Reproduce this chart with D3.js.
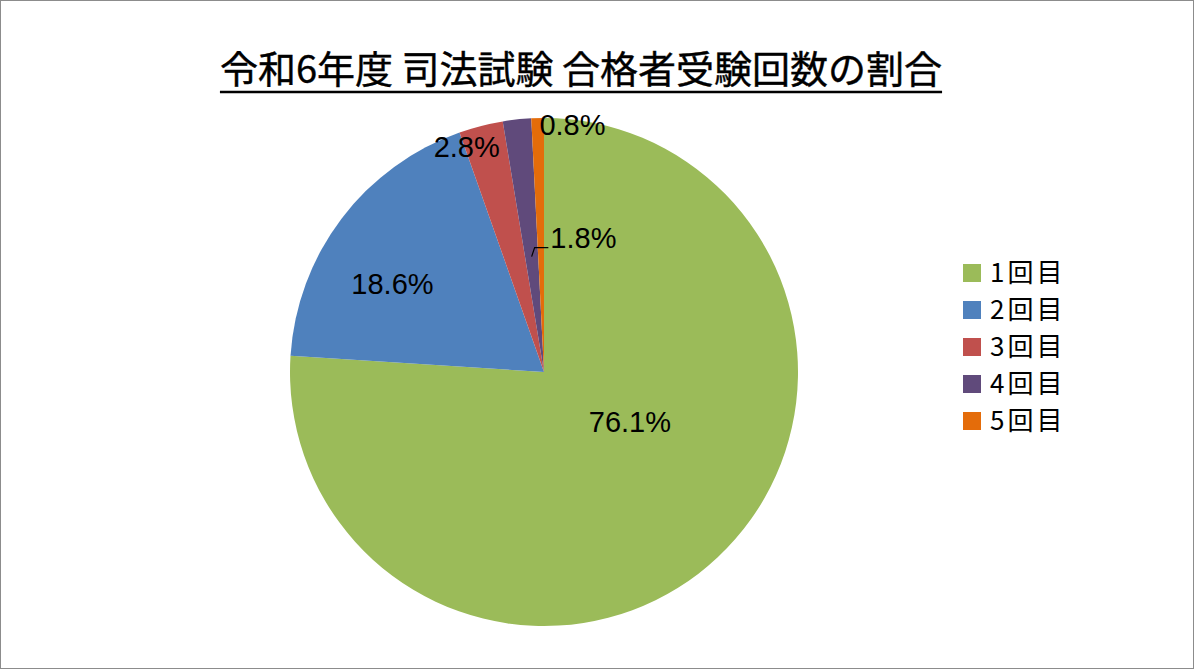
<!DOCTYPE html>
<html>
<head>
<meta charset="utf-8">
<script src="https://cdn.jsdelivr.net/npm/d3@7"></script>
<style>
	body { margin: 0; background: #fff; }
	svg { display: block; }
</style>
</head>
<body>
<div id="svg-container"></div>
<script>
	// DATA
	var categories = ['1回目', '2回目', '3回目', '4回目', '5回目'];
	var shares = [76.1, 18.6, 2.8, 1.8, 0.8];
	var colors = ['#9BBB59', '#4F81BD', '#C0504D', '#604A7B', '#E46C0A'];
	var titleText = '令和6年度 司法試験 合格者受験回数の割合';

	var pageWidth = 1195;
	var pageHeight = 670;
	var cx = 544;
	var cy = 372;
	var radius = 254;

	// label placement: fraction of radius, angle shift (deg) from slice middle
	var labelRadius = [0.39, 0.69, 0.94, 0.55, 0.98];
	var labelShift  = [-17, -7, -4.5, 22.5, 8];

	var svg = d3.select('#svg-container')
		.append('svg')
		.attr('width', pageWidth)
		.attr('height', pageHeight);

	svg.append('rect')
		.attr('x', 0.5).attr('y', 0.5)
		.attr('width', pageWidth - 2).attr('height', pageHeight - 2)
		.attr('fill', '#fff')
		.attr('stroke', '#8c8c8c')
		.attr('stroke-width', 1);

	// title
	var title = svg.append('text')
		.attr('x', 581)
		.attr('y', 83)
		.attr('text-anchor', 'middle')
		.attr('font-family', '"Noto Sans CJK JP", sans-serif')
		.attr('font-size', 38)
		.attr('fill', '#000')
		.attr('stroke', '#000')
		.attr('stroke-width', 0.4)
		.text(titleText);

	var tw = title.node().getComputedTextLength();
	svg.append('line')
		.attr('x1', 581 - tw / 2).attr('x2', 581 + tw / 2)
		.attr('y1', 92).attr('y2', 92)
		.attr('stroke', '#000')
		.attr('stroke-width', 2.5);

	var pie = d3.pie().sort(null).value(function(d) { return d; });
	var arcs = pie(shares);
	var arc = d3.arc().innerRadius(0).outerRadius(radius);

	var g = svg.append('g')
		.attr('transform', `translate(${cx}, ${cy})`);

	g.selectAll('path.slice')
		.data(arcs)
		.enter()
		.append('path')
		.attr('class', 'slice')
		.attr('d', arc)
		.attr('fill', function(d, i) { return colors[i]; });

	function labelPoint(d, i) {
		var a = (d.startAngle + d.endAngle) / 2 + labelShift[i] * Math.PI / 180;
		var r = radius * labelRadius[i];
		return [r * Math.sin(a), -r * Math.cos(a)];
	}

	var labels = g.selectAll('text.label')
		.data(arcs)
		.enter()
		.append('text')
		.attr('class', 'label')
		.attr('x', function(d, i) { return labelPoint(d, i)[0]; })
		.attr('y', function(d, i) { return labelPoint(d, i)[1]; })
		.attr('dy', '0.36em')
		.attr('text-anchor', 'middle')
		.attr('font-family', '"Liberation Sans", Arial, sans-serif')
		.attr('font-size', 29)
		.attr('fill', '#000')
		.text(function(d) { return d.data.toFixed(1) + '%'; });

	// leader line for the 4th slice (label sits over the green slice)
	var small = arcs[3];
	var mid = (small.startAngle + small.endAngle) / 2;
	var anchorR = radius * 0.457;
	var p0 = [anchorR * Math.sin(mid), -anchorR * Math.cos(mid)];
	var lp = labelPoint(small, 3);
	var smallW = labels.nodes()[3].getComputedTextLength();
	var lineY = p0[1] - 9;
	g.append('path')
		.attr('d', `M${p0[0]},${p0[1]} L${p0[0] + 3},${lineY} L${lp[0] - smallW / 2 - 2},${lineY}`)
		.attr('fill', 'none')
		.attr('stroke', '#000')
		.attr('stroke-width', 1.2);

	// legend
	var legend = svg.append('g')
		.attr('transform', 'translate(963, 273)');

	var rows = legend.selectAll('g.row')
		.data(categories)
		.enter()
		.append('g')
		.attr('class', 'row')
		.attr('transform', function(d, i) { return `translate(0, ${i * 37})`; });

	rows.append('rect')
		.attr('x', 0).attr('y', -9)
		.attr('width', 18).attr('height', 18)
		.attr('fill', function(d, i) { return colors[i]; });

	rows.append('text')
		.attr('x', 27)
		.attr('y', 0)
		.attr('dy', '0.36em')
		.attr('font-family', '"Noto Sans CJK JP", sans-serif')
		.attr('font-size', 26)
		.attr('letter-spacing', 3)
		.attr('fill', '#000')
		.text(function(d) { return d; });
</script>
</body>
</html>
